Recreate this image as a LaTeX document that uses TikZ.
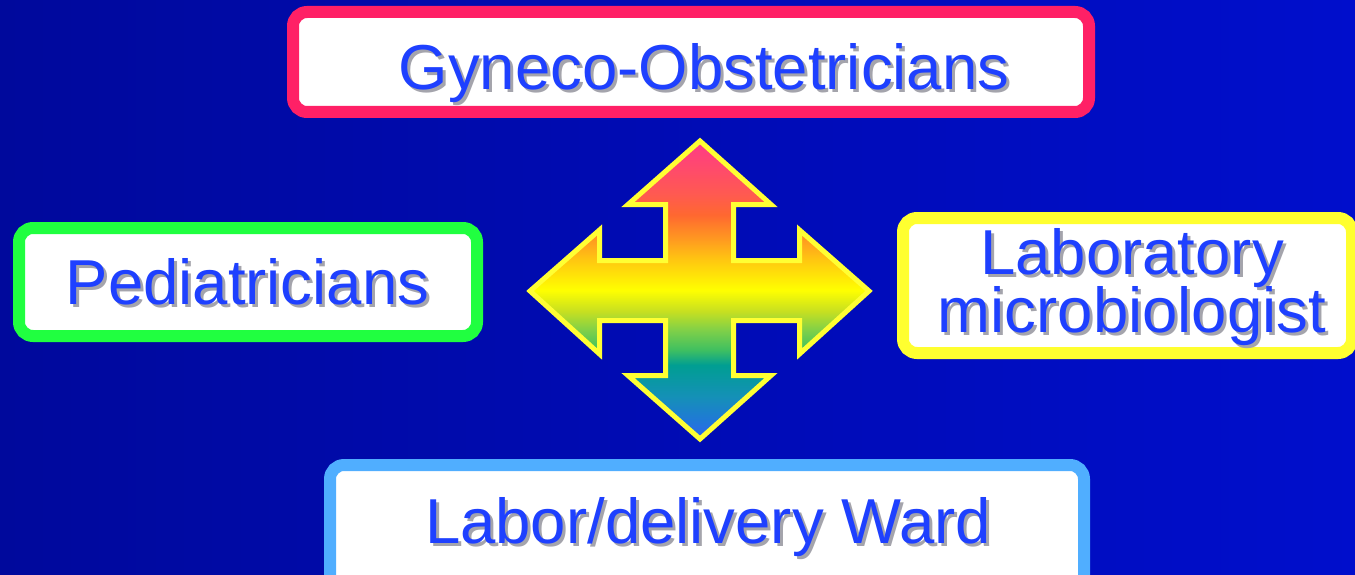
\documentclass[tikz,border=0pt]{standalone}
\usepackage{fontspec}
\setmainfont{Liberation Sans}
\definecolor{bgL}{HTML}{00099C}
\definecolor{bgR}{HTML}{000ECC}
\definecolor{pinkc}{HTML}{FF2066}
\definecolor{greenc}{HTML}{20FF40}
\definecolor{yellowc}{HTML}{FFFF30}
\definecolor{skyc}{HTML}{50AEFF}
\definecolor{txtc}{HTML}{1E40FF}
\definecolor{shadc}{HTML}{A4A4AC}
\definecolor{arrowline}{HTML}{FFFF33}
% colour bands of the four-way arrow
\definecolor{rbA}{HTML}{2E64F0}
\definecolor{rbB}{HTML}{2078D8}
\definecolor{rbC}{HTML}{1590B8}
\definecolor{rbD}{HTML}{009E92}
\definecolor{rbE}{HTML}{40C060}
\definecolor{rbF}{HTML}{80D048}
\definecolor{rbG}{HTML}{C8E020}
\definecolor{rbH}{HTML}{FFFF00}
\definecolor{rbI}{HTML}{FFC810}
\definecolor{rbJ}{HTML}{FF9A20}
\definecolor{rbK}{HTML}{FF6830}
\definecolor{rbL}{HTML}{FF5A50}
\definecolor{rbM}{HTML}{FF3A88}
\pgfdeclareverticalshading{rainbow}{100bp}{%
  color(0bp)=(rbA); color(25bp)=(rbA);
  color(28bp)=(rbB); color(32bp)=(rbC);
  color(37.4bp)=(rbD); color(40bp)=(rbE);
  color(43.3bp)=(rbF); color(46.5bp)=(rbG);
  color(50bp)=(rbH); color(55bp)=(rbI);
  color(58.5bp)=(rbJ); color(62.6bp)=(rbK);
  color(66bp)=(rbL); color(75bp)=(rbM); color(100bp)=(rbM)}
% text with a grey drop shadow behind it
\newcommand\dropshadowed[1]{%
  \makebox[0pt][l]{\hspace{3pt}\raisebox{-3pt}{\color{shadc}#1}}#1}
\tikzset{
  rolebox/.style={draw=#1, line width=12pt, fill=white, rounded corners=14pt,
    inner sep=0pt, outer sep=0pt},
  label/.style={text=txtc, anchor=base, inner sep=0pt,
    font=\fontsize{63.5}{58}\selectfont},
}
\begin{document}
\begin{tikzpicture}[x=1pt,y=-1pt]
  \useasboundingbox (0,0) rectangle (1355,575);
  % backdrop
  \shade[left color=bgL, right color=bgR] (0,0) rectangle (1355,575);

  % the four framed boxes
  \node[rolebox=pinkc, minimum width=796pt, minimum height=100pt] (gyn) at (691,62) {};
  \node[rolebox=greenc, minimum width=458pt, minimum height=108pt] (ped) at (248,282) {};
  \node[rolebox=yellowc, minimum width=449pt, minimum height=135pt] (lab) at (1127.5,285.5) {};
  \node[rolebox=skyc, minimum width=754pt, minimum height=130pt] (ward) at (707,530) {};

  % labels
  \node[label] (gynT) at (704,90) {\dropshadowed{Gyneco-Obstetricians}};
  \node[label] (pedT) at (247.5,304) {\dropshadowed{Pediatricians}};
  \node[label] (labT1) at (1132,274) {\dropshadowed{Laboratory}};
  \node[label] (labT2) at (1132,332) {\dropshadowed{microbiologist}};
  \node[label] (wardT) at (708,543) {\dropshadowed{Labor/delivery Ward}};

  % four-way arrow in the middle
  \shadedraw[shading=rainbow, draw=arrowline, line width=5pt, line join=miter]
    (700,141) -- (771,204.5) -- (733.5,204.5) -- (733.5,260.5)
    -- (799.5,260.5) -- (799.5,230) -- (869,291) -- (799.5,354)
    -- (799.5,320.5) -- (733.5,320.5) -- (733.5,375.5) -- (771,375.5)
    -- (700,439) -- (628,375.5) -- (665.5,375.5) -- (665.5,320.5)
    -- (599.5,320.5) -- (599.5,354) -- (530,291) -- (599.5,230)
    -- (599.5,260.5) -- (665.5,260.5) -- (665.5,204.5) -- (628,204.5) -- cycle;
\end{tikzpicture}
\end{document}
